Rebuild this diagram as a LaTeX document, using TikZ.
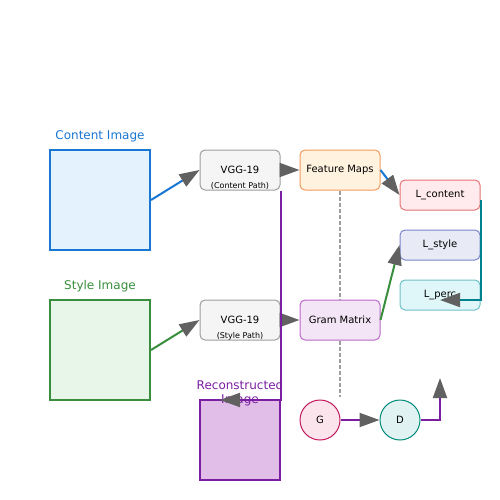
\documentclass[tikz,border=0pt]{standalone}
\usepackage{fontspec}
\setmainfont{DejaVu Sans}
\usetikzlibrary{arrows.meta}

\definecolor{contentblue}{HTML}{1976D2}
\definecolor{contentfill}{HTML}{E3F2FD}
\definecolor{stylegreen}{HTML}{388E3C}
\definecolor{stylefill}{HTML}{E8F5E9}
\definecolor{reconpurple}{HTML}{7B1FA2}
\definecolor{reconfill}{HTML}{E1BEE7}
\definecolor{netgray}{HTML}{9E9E9E}
\definecolor{netfill}{HTML}{F5F5F5}
\definecolor{featorange}{HTML}{F29A5C}
\definecolor{featfill}{HTML}{FFF3E0}
\definecolor{grampurple}{HTML}{BA68C8}
\definecolor{gramfill}{HTML}{F3E5F5}
\definecolor{lcontred}{HTML}{E57373}
\definecolor{lcontfill}{HTML}{FFEBEE}
\definecolor{lstyleblue}{HTML}{7986CB}
\definecolor{lstylefill}{HTML}{E8EAF6}
\definecolor{lpercteal}{HTML}{6EC1C8}
\definecolor{lpercfill}{HTML}{E0F7FA}
\definecolor{gpink}{HTML}{C2185B}
\definecolor{gfill}{HTML}{FCE4EC}
\definecolor{dteal}{HTML}{00897B}
\definecolor{dfill}{HTML}{E0F2F1}
\definecolor{tealline}{HTML}{00838F}
\definecolor{tipgray}{HTML}{616161}

\begin{document}
\begin{tikzpicture}[x=1pt,y=-1pt,
  img box/.style={draw,line width=2pt,minimum size=100pt,inner sep=0pt},
  net node/.style={draw=netgray,fill=netfill,line width=1pt,rounded corners=5pt,
    minimum width=80pt,minimum height=40pt,font=\fontsize{10}{12}\selectfont},
  loss node/.style={line width=1pt,rounded corners=5pt,minimum width=80pt,
    minimum height=30pt,font=\fontsize{10}{12}\selectfont},
  disc node/.style={circle,line width=1pt,minimum size=40pt,inner sep=0pt,
    font=\fontsize{10}{12}\selectfont},
  flow/.style={line width=2pt,-{Triangle[length=20pt,width=14pt,color=tipgray]}},
  title/.style={font=\fontsize{12}{14}\selectfont,align=center},
  subtitle/.style={font=\fontsize{8}{9}\selectfont}]

  \useasboundingbox (0,0) rectangle (500,500);

  % inputs and output
  \node[img box,draw=contentblue,fill=contentfill] (content) at (100,200) {};
  \node[img box,draw=stylegreen,fill=stylefill] (style) at (100,350) {};
  \node[img box,draw=reconpurple,fill=reconfill,minimum size=80pt] (recon) at (240,440) {};

  \node[title,text=contentblue] (contenttitle) at (100,136) {Content Image};
  \node[title,text=stylegreen] (styletitle) at (100,286) {Style Image};
  \node[title,text=reconpurple] (recontitle) at (240,393) {Reconstructed\\Image};

  % network
  \node[net node] (vggc) at (240,170) {VGG-19};
  \node[subtitle] (vggcsub) at (240,186) {(Content Path)};
  \node[net node] (vggs) at (240,320) {VGG-19};
  \node[subtitle] (vggssub) at (240,336) {(Style Path)};

  \node[net node,draw=featorange,fill=featfill] (feat) at (340,170) {Feature Maps};
  \node[net node,draw=grampurple,fill=gramfill] (gram) at (340,320) {Gram Matrix};

  % losses
  \node[loss node,draw=lcontred,fill=lcontfill] (lcont) at (440,195) {L\_content};
  \node[loss node,draw=lstyleblue,fill=lstylefill] (lstyle) at (440,245) {L\_style};
  \node[loss node,draw=lpercteal,fill=lpercfill] (lperc) at (440,295) {L\_perc};

  \node[disc node,draw=gpink,fill=gfill] (g) at (320,420) {G};
  \node[disc node,draw=dteal,fill=dfill] (d) at (400,420) {D};

  \coordinate (dashend) at (340,397);
  \coordinate (percin) at (440,300);
  \coordinate (reconin) at (220,400);
  \coordinate (dout) at (440,378);

  \draw[netgray,line width=1.5pt,dash pattern=on 4pt off 2pt] (feat.south) -- (gram.north);
  \draw[netgray,line width=1.5pt,dash pattern=on 4pt off 2pt] (gram.south) -- (dashend);

  \draw[flow,contentblue] (content.east) -- (vggc.west);
  \draw[flow,stylegreen] (style.east) -- (vggs.west);
  \draw[flow,contentblue] (vggc.east) -- (feat.west);
  \draw[flow,stylegreen] (vggs.east) -- (gram.west);
  \draw[flow,contentblue] (feat.east) -- (lcont.west);
  \draw[flow,stylegreen] (gram.east) -- (lstyle.west);
  \draw[flow,tealline] ([yshift=-5pt]lcont.east) |- (percin);
  \draw[flow,reconpurple] (vggc.south east) |- (reconin);
  \draw[flow,reconpurple] (g) -- (d);
  \draw[flow,reconpurple] (d.east) -| (dout);
\end{tikzpicture}
\end{document}
